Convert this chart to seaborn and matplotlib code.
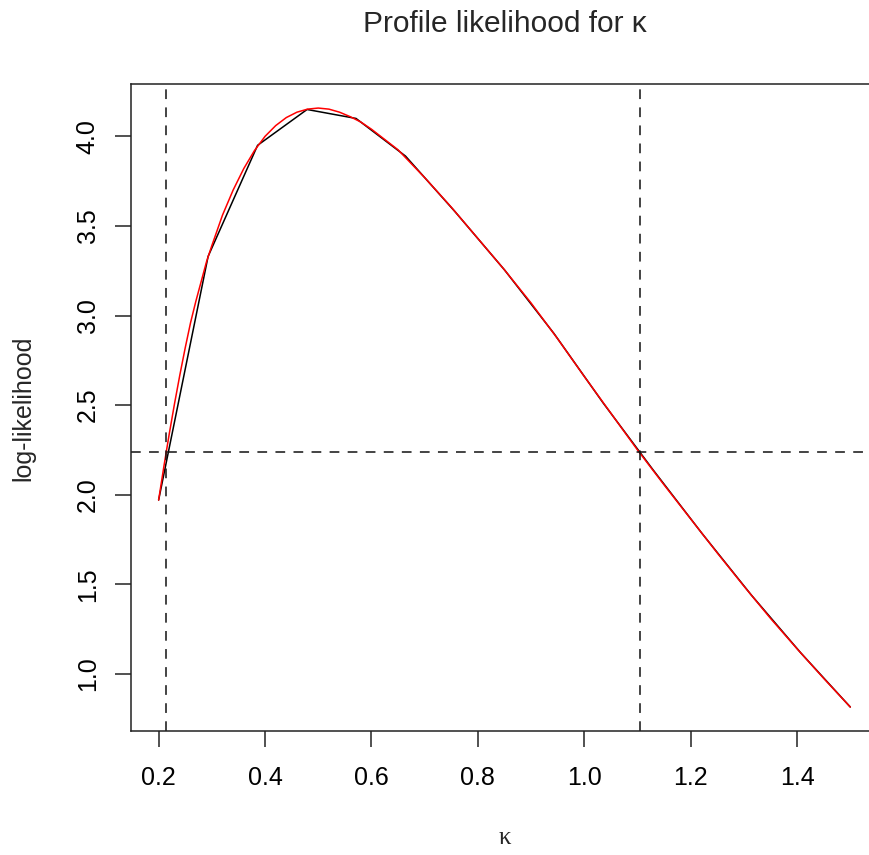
import pandas as pd
import matplotlib
matplotlib.use("Agg")
import matplotlib.pyplot as plt
from matplotlib.ticker import FixedLocator, FormatStrFormatter
import seaborn as sns

# profile log-likelihood evaluated on a coarse grid (black polyline)
kappa_grid = [0.200, 0.293, 0.386, 0.479, 0.571, 0.664, 0.757, 0.850,
              0.943, 1.036, 1.129, 1.221, 1.314, 1.407, 1.500]
loglik_grid = [1.97, 3.33, 3.95, 4.15, 4.10, 3.89, 3.58, 3.255,
               2.90, 2.51, 2.14, 1.785, 1.44, 1.117, 0.815]

# smoothed curve (red)
kappa_smooth = [0.20, 0.21, 0.22, 0.23, 0.24, 0.25, 0.26, 0.27, 0.28, 0.29,
                0.30, 0.32, 0.34, 0.36, 0.38, 0.40, 0.42, 0.44, 0.46, 0.48,
                0.50, 0.52, 0.54, 0.56, 0.58, 0.60, 0.65, 0.70, 0.75, 0.80,
                0.85, 0.90, 0.95, 1.00, 1.05, 1.10, 1.15, 1.20, 1.25, 1.30,
                1.35, 1.40, 1.45, 1.50]
loglik_smooth = [1.97, 2.16, 2.34, 2.51, 2.67, 2.82, 2.96, 3.08, 3.19, 3.30,
                 3.39, 3.56, 3.70, 3.82, 3.92, 4.00, 4.06, 4.105, 4.135, 4.152,
                 4.158, 4.152, 4.135, 4.11, 4.08, 4.04, 3.925, 3.77, 3.605, 3.43,
                 3.255, 3.07, 2.87, 2.66, 2.455, 2.25, 2.055, 1.865, 1.675, 1.49,
                 1.31, 1.14, 0.975, 0.815]

# confidence interval bounds and cutoff
ci_bounds = [0.213, 1.105]
cutoff = 2.24

x_ticks = [0.2, 0.4, 0.6, 0.8, 1.0, 1.2, 1.4]
y_ticks = [1.0, 1.5, 2.0, 2.5, 3.0, 3.5, 4.0]

sns.set_style("ticks")
plt.rcParams['font.family'] = ['Liberation Sans', 'DejaVu Sans']
plt.rcParams['lines.scale_dashes'] = False

grid_df = pd.DataFrame({'kappa': kappa_grid, 'loglik': loglik_grid})
smooth_df = pd.DataFrame({'kappa': kappa_smooth, 'loglik': loglik_smooth})

fig = plt.figure(figsize=(8.69, 8.55), dpi=100)
ax = fig.add_axes([0.1507, 0.1450, 0.8596, 0.7567])

sns.lineplot(data=grid_df, x='kappa', y='loglik', color='black', lw=1.1,
             estimator=None, sort=False, ax=ax)
sns.lineplot(data=smooth_df, x='kappa', y='loglik', color='#ff0000', lw=1.1,
             estimator=None, sort=False, ax=ax)

for b in ci_bounds:
    ax.axvline(b, color='#111111', lw=1.1, dashes=(7, 6))
ax.axhline(cutoff, color='#111111', lw=1.1, dashes=(7, 6))

ax.set_xlim(0.148, 1.552)
ax.set_ylim(0.681, 4.292)
ax.xaxis.set_major_locator(FixedLocator(x_ticks))
ax.yaxis.set_major_locator(FixedLocator(y_ticks))
ax.xaxis.set_major_formatter(FormatStrFormatter('%.1f'))
ax.yaxis.set_major_formatter(FormatStrFormatter('%.1f'))
ax.tick_params(direction='out', length=11.5, width=1.1, labelsize=18,
               color='#222222', labelcolor='black')
ax.tick_params(axis='x', pad=14)
ax.tick_params(axis='y', pad=11, labelrotation=90)
for lab in ax.get_yticklabels():
    lab.set_va('center')

for s in ax.spines.values():
    s.set_linewidth(1.1)
    s.set_color('#222222')

ax.set_xlabel('')
ax.set_ylabel('')
fig.text(0.5806, 1 - 838 / 855, 'κ', fontsize=18, ha='center', va='center',
         family=['Liberation Serif', 'DejaVu Serif'])
fig.text(23 / 869, 1 - 408 / 855, 'log-likelihood', fontsize=18,
         rotation=90, ha='center', va='center')
fig.text(0.5806, 1 - 32 / 855, 'Profile likelihood for κ', fontsize=21.5,
         ha='center', va='baseline')

fig.savefig('out.png', dpi=100)
